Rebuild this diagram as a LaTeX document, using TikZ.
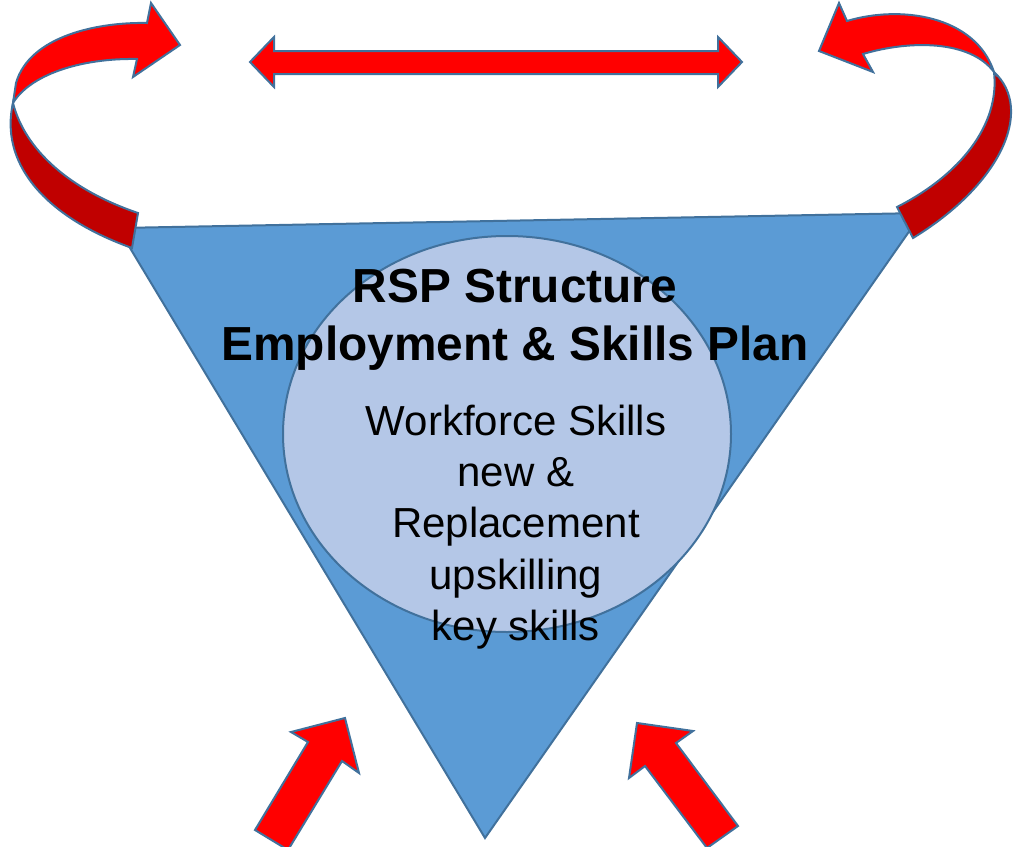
\documentclass[tikz,border=0pt]{standalone}
\usepackage{fontspec}
\setmainfont{Liberation Sans}
\usetikzlibrary{shapes.geometric, positioning}

\begin{document}
\begin{tikzpicture}[x=1pt,y=-1pt]
            % Colours
            \definecolor{tribl}{RGB}{91,155,213}
            \definecolor{edgebl}{RGB}{65,113,156}
            \definecolor{corebl}{RGB}{180,199,231}
            \definecolor{arrred}{RGB}{255,0,0}
            \definecolor{arrdark}{RGB}{192,0,0}
            \tikzset{
                redarrow/.style={fill=arrred, draw=edgebl, line width=2pt},
                darkarrow/.style={fill=arrdark, draw=edgebl, line width=2pt}
            }
            \useasboundingbox (0,0) rectangle (1017,846);
            \clip (0,0) rectangle (1017,846);

            % Triangle and circle
            \draw[fill=tribl, draw=edgebl, line width=2pt] (118,228) -- (922,213) -- (485,838) -- cycle;
            \node[ellipse, fill=corebl, draw=edgebl, line width=2pt, inner sep=0pt,
                  minimum width=448pt, minimum height=396pt] (core) at (507,434) {};

            % Double arrow
            \draw[redarrow] (250,62) -- (274,37) -- (274,51) -- (718,51) -- (718,37) -- (742,62)
                -- (718,87) -- (718,74) -- (274,74) -- (274,87) -- cycle;

            % Bottom arrows
            \draw[redarrow] (345,718) -- (359,773) -- (342,761) -- (288,850) -- (255,830)
                -- (308,742) -- (291,732) -- cycle;
            \draw[redarrow] (637,723) -- (693,731) -- (676,743) -- (738,826) -- (707,848)
                -- (645,766) -- (629,778) -- cycle;

            % Left curved arrow
            \draw[darkarrow] (13,103) .. controls (0,160) and (40,215) .. (132,248) -- (138,213)
                .. controls (70,190) and (25,150) .. (13,103) -- cycle;
            \draw[redarrow] (16,83) .. controls (30,35) and (100,22) .. (147,23) -- (151,3)
                -- (180,45) -- (133,77) -- (137,59) .. controls (80,58) and (30,75) .. (13,103) -- cycle;

            % Right curved arrow
            \draw[darkarrow] (994,72) .. controls (1035,110) and (1000,185) .. (913,238) -- (897,207)
                .. controls (960,175) and (1000,125) .. (994,72) -- cycle;
            \draw[redarrow] (994,72) .. controls (975,15) and (900,5) .. (847,21) -- (839,3)
                -- (819,51) -- (873,72) -- (863,54) .. controls (910,40) and (970,40) .. (994,72) -- cycle;

            % Text
            \node[align=center, font=\bfseries\fontsize{47.8}{58}\selectfont] (title) at (515,320) {RSP Structure\\Employment \& Skills Plan};
            \node[align=center, font=\fontsize{42}{51.3}\selectfont] (skills) at (516,527) {Workforce Skills\\new \&\\Replacement\\upskilling\\key skills};

        \end{tikzpicture}
\end{document}
